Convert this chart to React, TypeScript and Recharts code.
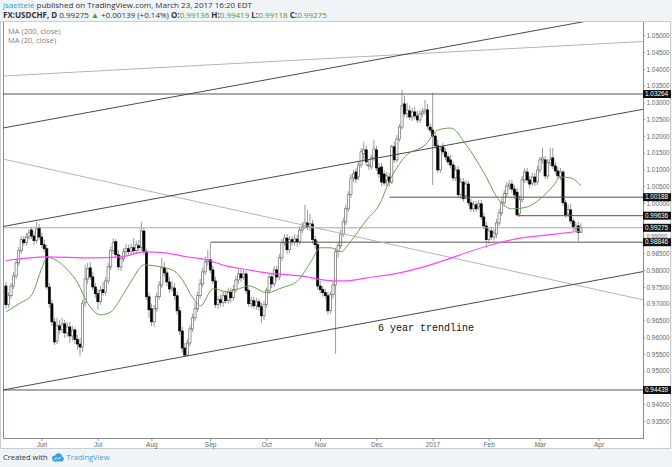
import React from "react";
import { ComposedChart, Bar, Line, XAxis, YAxis, ReferenceLine } from "recharts";

// FX:USDCHF daily bars, 12 May 2016 .. 23 Mar 2017
const opens = [
  0.9754, 0.9698, 0.9725, 0.9754, 0.9784, 0.9823, 0.9859, 0.9892, 0.9883, 0.99,
  0.9921, 0.9903, 0.9889, 0.9927, 0.99, 0.9877, 0.9865, 0.9751, 0.9701, 0.9647,
  0.959, 0.9635, 0.9623, 0.9641, 0.9614, 0.9632, 0.9605, 0.9623, 0.9594, 0.9581,
  0.9572, 0.9704, 0.9775, 0.9808, 0.9781, 0.9751, 0.9731, 0.9707, 0.9743, 0.9734,
  0.9769, 0.9811, 0.9859, 0.9886, 0.9847, 0.9811, 0.9835, 0.9856, 0.9865, 0.9856,
  0.9868, 0.9859, 0.9874, 0.9868, 0.9918, 0.9856, 0.9722, 0.9686, 0.9647, 0.9686,
  0.9722, 0.9757, 0.9808, 0.9793, 0.9766, 0.9745, 0.9748, 0.9725, 0.968, 0.962,
  0.9569, 0.9548, 0.9584, 0.9626, 0.9659, 0.9686, 0.9725, 0.976, 0.9796, 0.9826,
  0.9832, 0.9802, 0.9769, 0.9698, 0.9713, 0.9704, 0.9725, 0.971, 0.9734, 0.9719,
  0.9743, 0.9772, 0.979, 0.9781, 0.979, 0.974, 0.9701, 0.971, 0.9695, 0.9707,
  0.9692, 0.9665, 0.9698, 0.974, 0.9781, 0.976, 0.9802, 0.9781, 0.9838, 0.9883,
  0.9897, 0.9862, 0.9892, 0.9886, 0.9894, 0.9886, 0.9921, 0.993, 0.9942, 0.993,
  0.9939, 0.9892, 0.9877, 0.9754, 0.9743, 0.9734, 0.9725, 0.968, 0.9728, 0.9757,
  0.9856, 0.9874, 0.9909, 0.9945, 0.9984, 1.0026, 1.0076, 1.0094, 1.0079, 1.0115,
  1.0148, 1.016, 1.0112, 1.0109, 1.0136, 1.016, 1.0106, 1.0109, 1.0088, 1.007,
  1.0079, 1.0064, 1.0169, 1.013, 1.0192, 1.0228, 1.0297, 1.0267, 1.0276, 1.0258,
  1.0273, 1.0261, 1.0249, 1.0267, 1.0273, 1.0279, 1.0228, 1.0219, 1.0201, 1.0172,
  1.01, 1.0169, 1.0154, 1.0139, 1.013, 1.0115, 1.0076, 1.01, 1.0026, 1.0064,
  1.0023, 1.0058, 1.0002, 0.9984, 0.9996, 0.999, 0.9999, 0.996, 0.9933, 0.9892,
  0.9918, 0.99, 0.9909, 0.9942, 0.9972, 1.0002, 1.0029, 1.0052, 1.0058, 1.0043,
  1.0034, 0.9969, 1.0011, 1.007, 1.0094, 1.007, 1.0061, 1.0079, 1.0064, 1.01,
  1.013, 1.013, 1.0082, 1.0121, 1.0136, 1.0112, 1.0097, 1.0079, 1.0094, 1.0002,
  0.9969, 0.9981, 0.9948, 0.9924, 0.9933, 0.99136,
];
const highs = [
  0.9766, 0.9734, 0.9763, 0.9796, 0.9835, 0.9871, 0.9903, 0.9903, 0.9912, 0.9924,
  0.993, 0.9918, 0.9945, 0.9939, 0.9912, 0.9892, 0.9877, 0.9763, 0.9713, 0.9659,
  0.9659, 0.9653, 0.9659, 0.9653, 0.9647, 0.9647, 0.9635, 0.9632, 0.9608, 0.9599,
  0.9713, 0.9817, 0.9823, 0.9826, 0.9796, 0.9763, 0.9745, 0.9754, 0.9766, 0.9781,
  0.9823, 0.9871, 0.9897, 0.9894, 0.9859, 0.9847, 0.9868, 0.988, 0.9877, 0.988,
  0.9897, 0.9889, 0.9892, 0.9945, 0.9927, 0.9865, 0.9734, 0.9701, 0.9698, 0.9734,
  0.9769, 0.9838, 0.9826, 0.9805, 0.9781, 0.9769, 0.9763, 0.9737, 0.9692, 0.9632,
  0.9584, 0.9596, 0.9638, 0.9671, 0.9704, 0.9737, 0.9775, 0.9808, 0.9841, 0.9862,
  0.9883, 0.9814, 0.9781, 0.9725, 0.9728, 0.9737, 0.974, 0.9749, 0.9749, 0.9757,
  0.9784, 0.9802, 0.9802, 0.9802, 0.9799, 0.9749, 0.9722, 0.9722, 0.9719, 0.9716,
  0.9704, 0.971, 0.9749, 0.9793, 0.9793, 0.9814, 0.9814, 0.985, 0.9894, 0.9909,
  0.9909, 0.9903, 0.9903, 0.9909, 0.9906, 0.9933, 0.9945, 0.9996, 0.9981, 0.9969,
  0.9951, 0.9903, 0.9889, 0.9769, 0.9754, 0.9745, 0.9737, 0.9737, 0.9769, 0.9868,
  0.9883, 0.9921, 0.9957, 0.9996, 1.0037, 1.0088, 1.01, 1.0106, 1.0127, 1.0166,
  1.0184, 1.0172, 1.013, 1.0145, 1.019, 1.0172, 1.0121, 1.0121, 1.01, 1.0094,
  1.0091, 1.0175, 1.0184, 1.0204, 1.0237, 1.0339, 1.0321, 1.03, 1.0291, 1.0285,
  1.0288, 1.0276, 1.0279, 1.0285, 1.0309, 1.0297, 1.024, 1.033, 1.021, 1.019,
  1.0172, 1.0181, 1.0166, 1.0151, 1.0145, 1.0127, 1.0112, 1.0112, 1.0076, 1.0076,
  1.007, 1.0067, 1.0014, 1.0008, 1.0008, 1.0011, 1.0011, 0.9972, 0.9945, 0.9927,
  0.993, 0.9924, 0.9954, 0.9984, 1.0014, 1.004, 1.0064, 1.007, 1.007, 1.0055,
  1.0046, 1.0023, 1.0082, 1.0106, 1.0106, 1.0082, 1.0091, 1.0091, 1.0112, 1.0139,
  1.0166, 1.0142, 1.0133, 1.0166, 1.0166, 1.0124, 1.0109, 1.0106, 1.01, 1.0011,
  0.9996, 0.9999, 0.9957, 0.9945, 0.9945, 0.99419,
];
const lows = [
  0.9686, 0.9689, 0.9716, 0.9745, 0.9775, 0.9814, 0.985, 0.9874, 0.9874, 0.9892,
  0.9894, 0.9877, 0.988, 0.9892, 0.9868, 0.9856, 0.9743, 0.9689, 0.9635, 0.9578,
  0.9581, 0.9611, 0.9614, 0.9599, 0.9602, 0.9584, 0.959, 0.9581, 0.9564, 0.9546,
  0.9558, 0.9692, 0.976, 0.9772, 0.974, 0.9719, 0.9683, 0.9698, 0.9725, 0.9725,
  0.976, 0.9802, 0.985, 0.9838, 0.9802, 0.9799, 0.9826, 0.9844, 0.9847, 0.9847,
  0.985, 0.985, 0.9856, 0.9859, 0.9847, 0.9713, 0.9659, 0.9635, 0.9632, 0.9677,
  0.9713, 0.9748, 0.9781, 0.9754, 0.9734, 0.9737, 0.9713, 0.9668, 0.9608, 0.9555,
  0.9543, 0.9543, 0.9575, 0.9617, 0.965, 0.9677, 0.9716, 0.9751, 0.9787, 0.9814,
  0.9793, 0.976, 0.9689, 0.9686, 0.9692, 0.9692, 0.9701, 0.9701, 0.9704, 0.971,
  0.9734, 0.976, 0.9766, 0.9772, 0.9731, 0.9692, 0.9689, 0.9686, 0.9683, 0.968,
  0.9644, 0.9653, 0.9689, 0.9731, 0.9748, 0.9751, 0.9769, 0.9772, 0.9829, 0.9874,
  0.985, 0.9853, 0.9874, 0.9874, 0.9871, 0.9877, 0.9912, 0.9924, 0.9921, 0.9918,
  0.988, 0.9865, 0.9743, 0.9731, 0.9722, 0.9716, 0.9668, 0.9671, 0.9716, 0.9552,
  0.9838, 0.9865, 0.99, 0.9936, 0.9975, 1.0017, 1.0064, 1.0061, 1.007, 1.0106,
  1.013, 1.0112, 1.01, 1.01, 1.0127, 1.0097, 1.0076, 1.0052, 1.0052, 1.0052,
  1.0049, 1.0058, 1.0121, 1.0121, 1.0184, 1.0219, 1.0258, 1.0255, 1.0249, 1.0246,
  1.0252, 1.024, 1.024, 1.0258, 1.0264, 1.0222, 1.021, 1.0055, 1.0163, 1.0091,
  1.0091, 1.0145, 1.013, 1.0115, 1.0106, 1.0067, 1.0067, 1.0017, 1.0014, 1.0005,
  1.0011, 0.9993, 0.9975, 0.9975, 0.9975, 0.9981, 0.9951, 0.9924, 0.9868, 0.988,
  0.9892, 0.9889, 0.9897, 0.9933, 0.9963, 0.9993, 1.002, 1.004, 1.0032, 1.0014,
  0.9964, 0.996, 1.0002, 1.0061, 1.0061, 1.0046, 1.0052, 1.0052, 1.0055, 1.0091,
  1.0118, 1.0073, 1.0073, 1.0112, 1.0103, 1.0088, 1.0073, 1.007, 0.9993, 0.9957,
  0.996, 0.9939, 0.9918, 0.9915, 0.9886, 0.99118,
];
const closes = [
  0.9698, 0.9725, 0.9754, 0.9784, 0.9823, 0.9859, 0.9892, 0.9883, 0.99, 0.9912,
  0.9903, 0.9889, 0.9924, 0.99, 0.9877, 0.9865, 0.9751, 0.9701, 0.9647, 0.9587,
  0.9635, 0.9623, 0.9641, 0.9614, 0.9632, 0.9605, 0.9623, 0.9594, 0.9581, 0.9572,
  0.9701, 0.9775, 0.9805, 0.9781, 0.9751, 0.9731, 0.9707, 0.974, 0.9734, 0.9769,
  0.9811, 0.9859, 0.9883, 0.9847, 0.9811, 0.9835, 0.9856, 0.9865, 0.9856, 0.9868,
  0.9859, 0.9877, 0.9868, 0.9918, 0.9856, 0.9722, 0.9683, 0.9647, 0.9686, 0.9722,
  0.9757, 0.9808, 0.9793, 0.9766, 0.9745, 0.9751, 0.9725, 0.968, 0.962, 0.9569,
  0.9548, 0.9584, 0.9626, 0.9659, 0.9686, 0.9725, 0.976, 0.9796, 0.9826, 0.9832,
  0.9802, 0.9769, 0.9698, 0.9713, 0.9704, 0.9725, 0.971, 0.9734, 0.9719, 0.9743,
  0.9772, 0.979, 0.9778, 0.979, 0.974, 0.9701, 0.971, 0.9695, 0.9707, 0.9692,
  0.9665, 0.9698, 0.974, 0.9781, 0.976, 0.9802, 0.9781, 0.9838, 0.9883, 0.9897,
  0.9862, 0.9892, 0.9886, 0.9894, 0.9886, 0.9921, 0.993, 0.9942, 0.993, 0.9939,
  0.9892, 0.9877, 0.9754, 0.9743, 0.9734, 0.9725, 0.968, 0.9728, 0.9757, 0.9856,
  0.9874, 0.9909, 0.9945, 0.9984, 1.0026, 1.0076, 1.0088, 1.0073, 1.0115, 1.0154,
  1.016, 1.0124, 1.0115, 1.0136, 1.0163, 1.0106, 1.0088, 1.0064, 1.0061, 1.0082,
  1.0064, 1.0169, 1.013, 1.0192, 1.0228, 1.0291, 1.0267, 1.0279, 1.0258, 1.0273,
  1.0261, 1.0249, 1.0267, 1.0273, 1.0279, 1.0231, 1.0219, 1.0201, 1.0172, 1.01,
  1.016, 1.0154, 1.0139, 1.0124, 1.0115, 1.0076, 1.01, 1.0026, 1.0064, 1.0014,
  1.0058, 1.0002, 0.9984, 0.9996, 0.9984, 0.9999, 0.996, 0.9933, 0.9892, 0.9918,
  0.99, 0.9912, 0.9942, 0.9972, 1.0002, 1.0029, 1.0052, 1.0058, 1.0043, 1.0026,
  0.9966, 1.0011, 1.007, 1.0094, 1.007, 1.0058, 1.0079, 1.0064, 1.01, 1.013,
  1.0136, 1.0082, 1.0121, 1.013, 1.0112, 1.0097, 1.0082, 1.0094, 1.0002, 0.9966,
  0.9981, 0.9948, 0.993, 0.9933, 0.99136, 0.99275,
];

// moving averages read at sample bars: [bar, value]
const ma20Points = [
  [0, 0.9677], [5, 0.9701], [10, 0.9728], [14, 0.9808], [16, 0.9839], [20, 0.9829],
  [24, 0.9802], [28, 0.9763], [32, 0.9701], [37, 0.9668], [41, 0.9677], [45, 0.9719],
  [49, 0.9769], [54, 0.9817], [58, 0.9814], [65, 0.9802], [69, 0.9772], [73, 0.9719],
  [76, 0.9695], [81, 0.9746], [86, 0.9737], [90, 0.9743], [95, 0.9754], [102, 0.9734],
  [108, 0.9749], [114, 0.9769], [119, 0.9823], [123, 0.9868], [127, 0.9868], [131, 0.9856],
  [135, 0.9889], [141, 0.9951], [146, 0.9996], [150, 1.0067], [156, 1.0139], [164, 1.0175],
  [169, 1.0219], [174, 1.0225], [180, 1.0175], [187, 1.0091], [193, 1.0008], [198, 0.9984],
  [204, 0.999], [209, 1.0014], [214, 1.0052], [217, 1.0079], [221, 1.0076], [225, 1.0052],
];
const ma200Points = [
  [0, 0.983], [16, 0.9841], [33, 0.9838], [45, 0.9841], [54, 0.9856], [62, 0.9853],
  [70, 0.9842], [78, 0.9833], [86, 0.9814], [95, 0.9802], [102, 0.9793], [115, 0.9784],
  [128, 0.9769], [133, 0.9769], [141, 0.9778], [154, 0.9793], [162, 0.9808], [172, 0.9832],
  [180, 0.9853], [190, 0.9877], [200, 0.9895], [214, 0.9908], [225, 0.9918],
];

const monthTicks = [14, 36, 57, 80, 102, 123, 145, 167, 189, 209, 232];
const monthLabels = ["Jun", "Jul", "Aug", "Sep", "Oct", "Nov", "Dec", "2017", "Feb", "Mar", "Apr"];

const priceTicks = [
  1.05, 1.045, 1.04, 1.035, 1.03, 1.025, 1.02, 1.015, 1.01, 1.005, 1.0,
  0.99, 0.985, 0.98, 0.975, 0.97, 0.965, 0.96, 0.955, 0.95, 0.94, 0.935,
];

// horizontal levels drawn on the chart and the bar where each one starts
const levelPrices = [1.03264, 1.00188, 0.99636, 0.99275, 0.98846, 0.94439];
const levelStarts = [-1.25, 150, 200, -1.25, 80, -1.25];

// trend lines as [bar, price] end points
const darkTrendLines = [
  [[-1.25, 1.0225], [249.2, 1.05745]],
  [[-1.25, 0.99313], [249.2, 1.02808]],
  [[-1.25, 0.94439], [249.2, 0.97969]],
];
const lightTrendLines = [
  [[-1.25, 1.038], [249.2, 1.0483]],
  [[-1.25, 1.01326], [249.2, 0.97128]],
];

const X_DOMAIN = [-1.25, 249.2];
const Y_DOMAIN = [0.92978, 1.05411];
const AXIS_FONT = '"Liberation Sans", Arial, sans-serif';

const bars = opens.map((o, i) => ({
  i,
  o,
  h: highs[i],
  l: lows[i],
  c: closes[i],
  range: [lows[i], highs[i]],
  ma20: null as number | null,
  ma200: null as number | null,
}));
ma20Points.forEach(([i, v]) => (bars[i].ma20 = v));
ma200Points.forEach(([i, v]) => (bars[i].ma200 = v));

const Candle = (props: any) => {
  const { x, y, width, height, payload } = props;
  if (!payload || height == null) return null;
  const { o, h, l, c } = payload;
  const top = Math.min(y, y + height);
  const span = Math.abs(height);
  const toY = (v: number) => top + ((h - v) / (h - l)) * span;
  const cx = x + width / 2;
  const bodyTop = toY(Math.max(o, c));
  const bodyBottom = toY(Math.min(o, c));
  const up = c >= o;
  return (
    <g>
      <line x1={cx} x2={cx} y1={top} y2={top + span} stroke="#8f8f8f" strokeWidth={0.9} />
      <rect
        x={cx - 1.1}
        y={bodyTop}
        width={2.2}
        height={Math.max(bodyBottom - bodyTop, 0.8)}
        fill={up ? "#ffffff" : "#000000"}
        stroke={up ? "#555555" : "#000000"}
        strokeWidth={0.6}
      />
    </g>
  );
};

const PriceTick = (props: any) => {
  const { x, y, payload } = props;
  const v = payload.value;
  const label = v.toFixed(5);
  if (levelPrices.includes(v)) {
    return (
      <g>
        <rect x={x} y={y - 4} width={28} height={8} fill="#111" />
        <text x={x + 2} y={y + 2.3} fill="#fff" fontSize={6.4} fontFamily={AXIS_FONT}>
          {label}
        </text>
      </g>
    );
  }
  // labels that sit right above a level box are lifted a little, as in the source
  const crowded = levelPrices.some((p) => p < v && v - p < 0.002);
  return (
    <g>
      <line x1={x} x2={x + 2} y1={y} y2={y} stroke="#999" />
      <text
        x={x + 3.5}
        y={y + (crowded ? 1 : 2.3)}
        fill="#666"
        fontSize={crowded ? 5.8 : 6.4}
        fontFamily={AXIS_FONT}
      >
        {label}
      </text>
    </g>
  );
};

const CloudLogo = () => (
  <svg width={13} height={9} viewBox="0 0 13 9" style={{ verticalAlign: "middle" }}>
    <circle cx={4} cy={5.5} r={3} fill="#3aa2da" />
    <circle cx={7.5} cy={3.8} r={3.5} fill="#3aa2da" />
    <circle cx={10.2} cy={5.8} r={2.6} fill="#3aa2da" />
    <rect x={4} y={5.5} width={6.2} height={2.9} fill="#3aa2da" />
    <path d="M3 6.5 L5.5 4.8 L7.5 6.2 L10 4.2" stroke="#fff" strokeWidth={0.9} fill="none" />
  </svg>
);

export default function App() {
  const last = bars[bars.length - 1];
  const prev = bars[bars.length - 2];
  const change = last.c - prev.c;
  const pct = (change / prev.c) * 100;
  const green = "#3c9b3c";
  const maLabel = {
    position: "absolute" as const,
    left: 8,
    fontFamily: '"Open Sans", sans-serif',
    fontSize: 7.5,
    lineHeight: "8px",
    color: "#808080",
    whiteSpace: "nowrap" as const,
  };
  return (
    <div
      style={{
        position: "absolute",
        left: 0,
        top: 0,
        width: 672,
        height: 467,
        background: "#f1f4f7",
        overflow: "hidden",
      }}
    >
      <div
        style={{
          position: "absolute",
          left: 0,
          top: 21,
          width: 669,
          height: 426,
          background: "#fff",
          border: "1px solid #c9ced4",
        }}
      />
      <div
        style={{
          position: "absolute",
          left: 3,
          top: 22,
          width: 639,
          height: 416,
          borderLeft: "1px solid #8c8c8c",
          borderRight: "1px solid #8c8c8c",
          borderBottom: "1px solid #8c8c8c",
        }}
      />
      <div
        style={{
          position: "absolute",
          left: 3,
          top: 0,
          fontFamily: '"Open Sans", sans-serif',
          fontSize: 8,
          lineHeight: "10px",
          color: "#333",
          whiteSpace: "nowrap",
        }}
      >
        <div style={{ position: "absolute", top: 0 }}>
          <span style={{ color: "#2f9bd6" }}>jsaettele</span> published on TradingView.com, March 23, 2017 16:20 EDT
        </div>
        <div style={{ position: "absolute", top: 10 }}>
          <b>FX:USDCHF, D</b> {last.c.toFixed(5)} <span style={{ color: green }}>▲</span> +{change.toFixed(5)} (+
          {pct.toFixed(2)}%) <b>O:</b>
          <span style={{ color: green }}>{last.o.toFixed(5)}</span> <b>H:</b>
          <span style={{ color: green }}>{last.h.toFixed(5)}</span> <b>L:</b>
          <span style={{ color: green }}>{last.l.toFixed(5)}</span> <b>C:</b>
          <span style={{ color: green }}>{last.c.toFixed(5)}</span>
        </div>
      </div>
      <div style={{ ...maLabel, top: 27 }}>MA (200, close)</div>
      <div style={{ ...maLabel, top: 36 }}>MA (20, close)</div>

      <div style={{ position: "absolute", left: 0, top: 0 }}>
        <ComposedChart width={672} height={467} data={bars} margin={{ top: 22, right: 0, bottom: 16, left: 3 }}>
          <XAxis
            type="number"
            dataKey="i"
            domain={X_DOMAIN}
            allowDataOverflow
            ticks={monthTicks}
            interval={0}
            tickFormatter={(v: number) => monthLabels[monthTicks.indexOf(v)]}
            height={12}
            tickSize={2}
            tickMargin={1}
            axisLine={false}
            tickLine={{ stroke: "#999" }}
            tick={{ fontSize: 6.5, fill: "#666", fontFamily: AXIS_FONT }}
          />
          <YAxis
            orientation="right"
            type="number"
            domain={Y_DOMAIN}
            allowDataOverflow
            width={29}
            ticks={[...priceTicks, ...levelPrices]}
            interval={0}
            tickSize={0}
            tickMargin={0}
            axisLine={false}
            tickLine={false}
            tick={<PriceTick />}
          />
          {levelPrices.map((p, k) => (
            <ReferenceLine
              key={"lvl" + k}
              segment={[
                { x: levelStarts[k], y: p },
                { x: X_DOMAIN[1], y: p },
              ]}
              stroke={p === 0.99275 ? "#a8a8a8" : "#555"}
              strokeWidth={1}
              ifOverflow="hidden"
            />
          ))}
          {lightTrendLines.map((seg, k) => (
            <ReferenceLine
              key={"lt" + k}
              segment={seg.map(([x, y]) => ({ x, y }))}
              stroke="#b4b4b4"
              strokeWidth={1}
              ifOverflow="hidden"
            />
          ))}
          {darkTrendLines.map((seg, k) => (
            <ReferenceLine
              key={"dt" + k}
              segment={seg.map(([x, y]) => ({ x, y }))}
              stroke="#4a4a4a"
              strokeWidth={1}
              ifOverflow="hidden"
            />
          ))}
          <Bar dataKey="range" barSize={2} shape={<Candle />} isAnimationActive={false} />
          <Line
            dataKey="ma200"
            type="monotone"
            stroke="#ff44ff"
            strokeWidth={1.2}
            dot={false}
            connectNulls
            isAnimationActive={false}
          />
          <Line
            dataKey="ma20"
            type="monotone"
            stroke="#6b9f50"
            strokeWidth={1}
            dot={false}
            connectNulls
            isAnimationActive={false}
          />
        </ComposedChart>
      </div>

      <div
        style={{
          position: "absolute",
          left: 378,
          top: 323,
          fontFamily: '"Liberation Mono", "DejaVu Sans Mono", monospace',
          fontSize: 10,
          color: "#111",
          whiteSpace: "nowrap",
        }}
      >
        6 year trendline
      </div>

      <div
        style={{
          position: "absolute",
          left: 3,
          top: 452,
          fontFamily: '"Open Sans", sans-serif',
          fontSize: 7.5,
          color: "#333",
          whiteSpace: "nowrap",
          display: "flex",
          alignItems: "center",
          gap: 3,
        }}
      >
        <span>Created with</span>
        <CloudLogo />
        <span style={{ color: "#3aa2da" }}>TradingView</span>
      </div>
    </div>
  );
}
